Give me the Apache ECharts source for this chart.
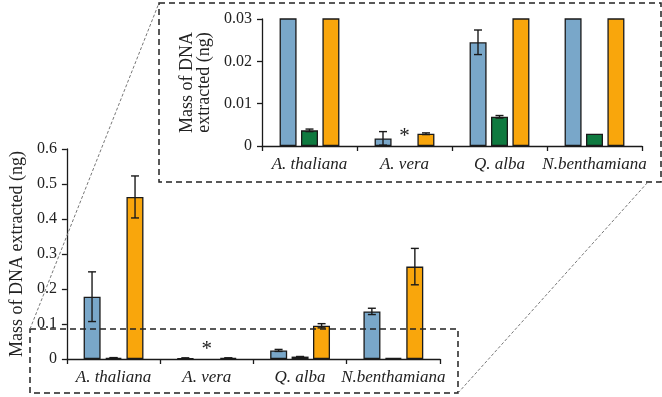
<!DOCTYPE html>
<html>
<head>
<meta charset="utf-8">
<script src="https://cdn.jsdelivr.net/npm/echarts@6/dist/echarts.min.js"></script>
<style>
  html, body { margin: 0; padding: 0; background: #fff; }
  #chart { width: 662px; height: 397px; }
</style>
</head>
<body>
<div id="chart"></div>
<script>
// species on the x axis
const categories = ['A. thaliana', 'A. vera', 'Q. alba', 'N.benthamiana'];

// mean mass of DNA extracted (ng) and error (+/-) per method
const blueMean = [0.178, 0.0018, 0.0245, 0.136];
const blueErr = [0.071, 0.0016, 0.0029, 0.009];
const greenMean = [0.0037, 0, 0.0069, 0.0029];
const greenErr = [0.0003, 0, 0.0003, 0];
const orangeMean = [0.463, 0.0029, 0.095, 0.264];
const orangeErr = [0.06, 0.0002, 0.006, 0.052];
// nothing detected -> marked with *
const notDetected = [false, true, false, false];

const mainTicks = { min: 0, max: 0.6, interval: 0.1 };
const insetTicks = { min: 0, max: 0.03, interval: 0.01 };

const font = "'Liberation Serif', 'Times New Roman', serif";
const colors = { blue: '#79a7c9', green: '#0f7a40', orange: '#f9a60c' };
const BAR_W = 17;
const STEP = 21.5; // bar width + gap

function barSeries(axis, values, color) {
  return {
    type: 'bar',
    xAxisIndex: axis,
    yAxisIndex: axis,
    barWidth: BAR_W,
    barGap: '26%',
    clip: true,
    data: values,
    itemStyle: { color: color, borderColor: '#1a1a1a', borderWidth: 1.3 },
  };
}

function greenSeries(axis) {
  return {
    ...barSeries(axis, [], colors.green),
    data: greenMean.map((v, i) =>
      notDetected[i]
        ? {
            value: v,
            itemStyle: { borderWidth: 0 },
            label: {
              show: true,
              position: 'top',
              distance: -1,
              formatter: '*',
              fontFamily: font,
              fontSize: 21,
              color: '#222',
            },
          }
        : v,
    ),
  };
}

function errorSeries(axis, means, errs, offset) {
  return {
    type: 'custom',
    xAxisIndex: axis,
    yAxisIndex: axis,
    clip: true,
    z: 5,
    data: means
      .map((m, i) => [i, m - errs[i], m + errs[i], errs[i]])
      .filter((d) => d[3] > 0),
    renderItem: function (params, api) {
      const lo = api.coord([api.value(0), api.value(1)]);
      const hi = api.coord([api.value(0), api.value(2)]);
      const x = lo[0] + offset;
      const style = { stroke: '#1a1a1a', lineWidth: 1.4 };
      return {
        type: 'group',
        children: [
          { type: 'line', shape: { x1: x, y1: lo[1], x2: x, y2: hi[1] }, style },
          { type: 'line', shape: { x1: x - 4, y1: lo[1], x2: x + 4, y2: lo[1] }, style },
          { type: 'line', shape: { x1: x - 4, y1: hi[1], x2: x + 4, y2: hi[1] }, style },
        ],
      };
    },
  };
}

const axisLine = { show: true, lineStyle: { color: '#1a1a1a', width: 1.3 } };
const axisTick = { show: true, length: 5, lineStyle: { color: '#1a1a1a', width: 1.3 } };

function xAxis(grid) {
  return {
    type: 'category',
    gridIndex: grid,
    data: categories,
    axisLine: axisLine,
    axisTick: axisTick,
    axisLabel: {
      fontFamily: font,
      fontStyle: 'italic',
      fontSize: 17,
      color: '#222',
      margin: 10,
      interval: 0,
    },
  };
}

function yAxis(grid, ticks, name, gap) {
  return {
    type: 'value',
    gridIndex: grid,
    min: ticks.min,
    max: ticks.max,
    interval: ticks.interval,
    name: name,
    nameLocation: 'middle',
    nameGap: gap,
    nameTextStyle: { fontFamily: font, fontSize: 18, color: '#222', lineHeight: 17 },
    axisLine: axisLine,
    axisTick: axisTick,
    splitLine: { show: false },
    axisLabel: { fontFamily: font, fontSize: 16, color: '#222', margin: 10 },
  };
}

const option = {
  animation: false,
  backgroundColor: '#ffffff',
  grid: [
    { left: 53, top: 149, width: 387, height: 210 },
    { left: 262, top: 19, width: 380, height: 127 },
  ],
  xAxis: [xAxis(0), xAxis(1)],
  yAxis: [
    yAxis(0, mainTicks, 'Mass of DNA extracted (ng)', 31),
    yAxis(1, insetTicks, 'Mass of DNA\nextracted (ng)', 48),
  ],
  series: [0, 1].flatMap((axis) => [
    barSeries(axis, blueMean, colors.blue),
    greenSeries(axis),
    barSeries(axis, orangeMean, colors.orange),
    errorSeries(axis, blueMean, blueErr, -STEP),
    errorSeries(axis, greenMean, greenErr, 0),
    errorSeries(axis, orangeMean, orangeErr, STEP),
  ]),
  graphic: [
    {
      type: 'rect',
      z: 100,
      shape: { x: 159, y: 3, width: 502, height: 179 },
      style: { fill: 'none', stroke: '#222', lineWidth: 1.5, lineDash: [6, 4] },
    },
    {
      type: 'rect',
      z: 100,
      shape: { x: 30, y: 329, width: 428, height: 64 },
      style: { fill: 'none', stroke: '#222', lineWidth: 1.5, lineDash: [6, 4] },
    },
    {
      type: 'line',
      z: 100,
      shape: { x1: 30, y1: 329, x2: 159, y2: 3 },
      style: { stroke: '#777', lineWidth: 1, lineDash: [3, 2] },
    },
    {
      type: 'line',
      z: 100,
      shape: { x1: 458, y1: 393, x2: 648, y2: 182 },
      style: { stroke: '#777', lineWidth: 1, lineDash: [3, 2] },
    },
  ],
};

const chart = echarts.init(document.getElementById('chart'), null, { renderer: 'canvas' });
chart.setOption(option);
</script>
</body>
</html>
